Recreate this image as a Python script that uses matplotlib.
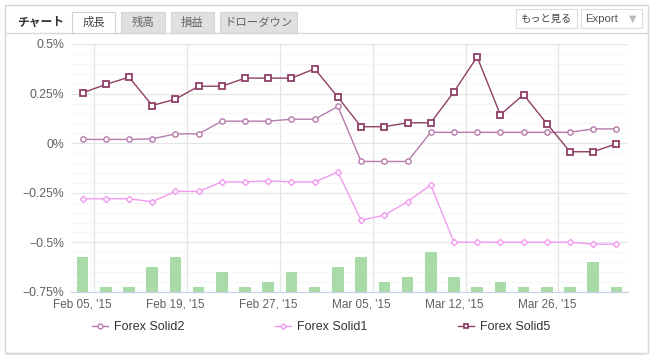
import matplotlib
matplotlib.use("Agg")
import matplotlib.pyplot as plt
from matplotlib.patches import Rectangle
from matplotlib.ticker import FixedLocator, MultipleLocator

# --- data ---
idx = list(range(24))
solid2 = [0.019, 0.019, 0.019, 0.022, 0.047, 0.047, 0.111, 0.111, 0.111, 0.121, 0.121, 0.185,
          -0.092, -0.092, -0.092, 0.055, 0.055, 0.055, 0.055, 0.055, 0.055, 0.055, 0.072, 0.072]
solid1 = [-0.280, -0.280, -0.280, -0.295, -0.243, -0.243, -0.195, -0.195, -0.190, -0.195, -0.195, -0.146,
          -0.388, -0.363, -0.295, -0.210, -0.499, -0.499, -0.499, -0.499, -0.499, -0.499, -0.509, -0.509]
solid5 = [0.254, 0.296, 0.333, 0.190, 0.222, 0.287, 0.287, 0.328, 0.328, 0.328, 0.375, 0.232,
          0.083, 0.083, 0.103, 0.103, 0.259, 0.435, 0.143, 0.245, 0.099, -0.043, -0.043, -0.003]
trades = [7, 1, 1, 5, 7, 1, 4, 1, 2, 4, 1, 5, 7, 2, 3, 8, 3, 1, 2, 1, 1, 1, 6, 1]

date_ticks = [0, 4, 8, 12, 16, 20]
date_labels = ["Feb 05, '15", "Feb 19, '15", "Feb 27, '15", "Mar 05, '15", "Mar 12, '15", "Mar 26, '15"]
grid_x = [0.5, 4.5, 8.5, 12.5, 16.5, 20.5]
y_ticks = [0.5, 0.25, 0, -0.25, -0.5, -0.75]
y_labels = ["0.5%", "0.25%", "0%", "\u22120.25%", "\u22120.5%", "\u22120.75%"]
tabs = ["成長", "残高", "損益", "ドローダウン"]

W, H = 656, 364
JP = ["Noto Sans CJK JP", "DejaVu Sans"]
SANS = ["Liberation Sans", "DejaVu Sans"]

def fx(px):
    return px / W

def fy(py):
    return 1 - py / H

fig = plt.figure(figsize=(W / 100, H / 100), dpi=100)
fig.patch.set_facecolor("white")

# panel with soft shadow
fig.patches.append(Rectangle((fx(6), fy(355)), fx(645) - fx(6), fy(6) - fy(355),
                             transform=fig.transFigure, facecolor="#e4e4e4", edgecolor="none", zorder=0))
fig.patches.append(Rectangle((fx(5), fy(353)), fx(648) - fx(5), fy(5) - fy(353),
                             transform=fig.transFigure, facecolor="white", edgecolor="#d6d6d6", lw=1, zorder=1))
# header separator
fig.add_artist(plt.Line2D([fx(5), fx(648)], [fy(32.5), fy(32.5)], transform=fig.transFigure,
                          color="#d8d8d8", lw=1, zorder=2))

fig.text(fx(17), fy(22), "チャート", family=JP, fontsize=8.5, fontweight="bold", color="#333333",
         va="center", ha="left")

tab_x = [(72, 115), (121, 165), (171, 214), (220, 297)]
for i, (name, (x0, x1)) in enumerate(zip(tabs, tab_x)):
    face = "white" if i == 0 else "#e0e0e0"
    fig.patches.append(Rectangle((fx(x0), fy(32.5)), fx(x1) - fx(x0), fy(12) - fy(32.5),
                                 transform=fig.transFigure, facecolor=face, edgecolor="#d4d4d4",
                                 lw=0.8, zorder=3))
    fig.text(fx((x0 + x1) / 2), fy(22.5), name, family=JP, fontsize=8.2,
             color="#444444" if i == 0 else "#666666", ha="center", va="center", zorder=4)

for (x0, x1) in [(516, 577), (581, 642)]:
    fig.patches.append(Rectangle((fx(x0), fy(28)), fx(x1) - fx(x0), fy(9) - fy(28),
                                 transform=fig.transFigure, facecolor="white", edgecolor="#dddddd",
                                 lw=0.8, zorder=3))
fig.text(fx(546), fy(18.5), "もっと見る", family=JP, fontsize=7.4, color="#444444",
         ha="center", va="center", zorder=4)
fig.text(fx(602), fy(18.5), "Export", family=SANS, fontsize=8.2, color="#555555",
         ha="center", va="center", zorder=4)
fig.text(fx(633), fy(18.5), "\u25bc", family=["DejaVu Sans"], fontsize=7, color="#bbbbbb",
         ha="center", va="center", zorder=4)

# --- plot area ---
ax = fig.add_axes([fx(71), fy(292), fx(628) - fx(71), fy(44) - fy(292)])
ax.set_zorder(5)
ax.set_xlim(-0.5, 23.5)
ax.set_ylim(-0.75, 0.5)

ax.set_yticks(y_ticks)
ax.set_yticklabels(y_labels, family=SANS, fontsize=8.8, color="#606060")
ax.yaxis.set_minor_locator(MultipleLocator(0.05))
ax.set_xticks(date_ticks)
ax.set_xticklabels(date_labels, family=SANS, fontsize=8.5, color="#606060")
ax.xaxis.set_minor_locator(FixedLocator(grid_x))
ax.tick_params(axis="both", which="both", length=0)
ax.tick_params(axis="y", pad=5)
ax.tick_params(axis="x", pad=5)

ax.grid(which="minor", axis="y", color="#f6f6f6", lw=0.8)
ax.grid(which="major", axis="y", color="#e6e6e6", lw=0.9)
ax.grid(which="minor", axis="x", color="#e4e4e4", lw=0.9)
ax.set_axisbelow(True)
for s in ["top", "right", "left"]:
    ax.spines[s].set_visible(False)
ax.spines["bottom"].set_color("#c0d0e0")

l2, = ax.plot(idx, solid2, color="#b57bac", lw=1, marker="o", ms=3.8, mfc="white",
              mec="#b57bac", mew=1, label="Forex Solid2", zorder=3)
l1, = ax.plot(idx, solid1, color="#f19af0", lw=1, marker="D", ms=3.2, mfc="white",
              mec="#f19af0", mew=1, label="Forex Solid1", zorder=3)
l5, = ax.plot(idx, solid5, color="#8f3f66", lw=1, marker="s", ms=3.9, mfc="white",
              mec="#8f3f66", mew=1.3, label="Forex Solid5", zorder=4)

bx = ax.twinx()
bx.set_zorder(6)
bx.patch.set_visible(False)
bx.bar(idx, trades, width=0.5, color="#a9dba9", zorder=2)
bx.set_ylim(0, 248 / 5)
bx.set_yticks([])
for s in bx.spines.values():
    s.set_visible(False)

fig.legend(handles=[l2, l1, l5], loc="center", bbox_to_anchor=(fx(321), fy(327)), ncol=3,
           frameon=False, prop={"family": SANS, "size": 9}, handlelength=1.3, handletextpad=0.5,
           columnspacing=7.2, labelcolor="#333333", markerscale=0.9)

fig.savefig("out.png", dpi=100)
